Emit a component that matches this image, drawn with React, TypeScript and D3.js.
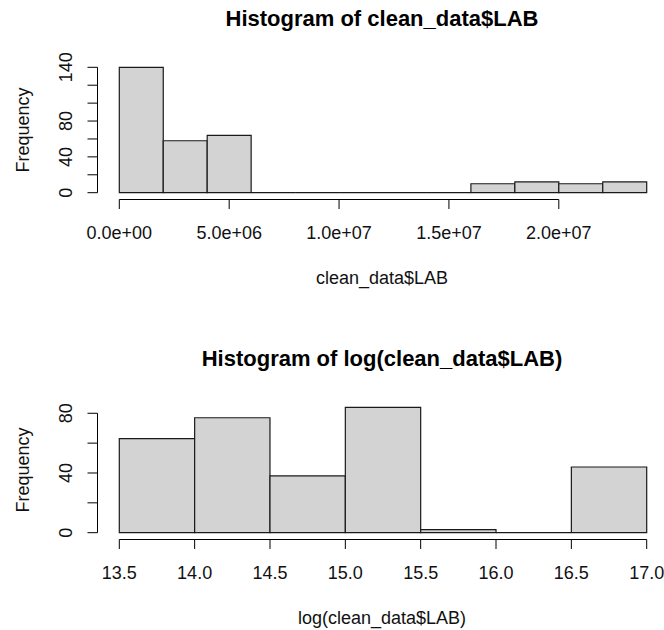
import React from 'react';
import * as d3 from 'd3';

// histogram of the raw values
const rawBreaks = [0, 2e6, 4e6, 6e6, 8e6, 10e6, 12e6, 14e6, 16e6, 18e6, 20e6, 22e6, 24e6];
const rawCounts = [140, 58, 64, 0, 0, 0, 0, 0, 10, 12, 10, 12];
const rawXTicks = [0, 5e6, 10e6, 15e6, 20e6];
const rawYTicks = [0, 20, 40, 60, 80, 100, 120, 140];
const rawYLabels = [0, 40, 80, 140];

// histogram of log values
const logBreaks = [13.5, 14, 14.5, 15, 15.5, 16, 16.5, 17];
const logCounts = [63, 77, 38, 84, 2, 0, 44];
const logXTicks = [13.5, 14, 14.5, 15, 15.5, 16, 16.5, 17];
const logYTicks = [0, 20, 40, 60, 80];
const logYLabels = [0, 40, 80];

const FONT = '"Liberation Sans", Arial, Helvetica, sans-serif';

// R style scientific labels: 5.0e+06
const sci = (v: number) => {
  const [m, e] = v.toExponential(1).split('e');
  const n = parseInt(e);
  return `${m}e${n < 0 ? '-' : '+'}${String(Math.abs(n)).padStart(2, '0')}`;
};

type PanelProps = {
  top: number;
  title: string;
  xlab: string;
  breaks: number[];
  counts: number[];
  xTicks: number[];
  yTicks: number[];
  yLabels: number[];
  fmt: (v: number) => string;
};

function Hist({ top, title, xlab, breaks, counts, xTicks, yTicks, yLabels, fmt }: PanelProps) {
  const x = d3.scaleLinear().domain([breaks[0], breaks[breaks.length - 1]]).range([119.3, 646.7]);
  const base = top + 192.7;
  const y = d3.scaleLinear().domain([0, d3.max(counts) as number]).range([base, base - 125.4]);
  const axisY = top + 199.5;
  const axisX = 97.5;
  const midY = (y(0) + y(d3.max(counts) as number)) / 2;

  return (
    <g fontFamily={FONT}>
      <text x={382} y={top + 26} textAnchor="middle" fontSize={22} fontWeight="bold" fill="#000">
        {title}
      </text>

      {/* bars drawn as closed paths so empty bins still show their base line */}
      {counts.map((c, i) => {
        const x0 = x(breaks[i]);
        const x1 = x(breaks[i + 1]);
        return (
          <path
            key={i}
            d={`M${x0},${y(0)}V${y(c)}H${x1}V${y(0)}Z`}
            fill="#d3d3d3"
            stroke="#1a1a1a"
            strokeWidth={1.2}
          />
        );
      })}

      {/* x axis */}
      <line x1={x(xTicks[0])} x2={x(xTicks[xTicks.length - 1])} y1={axisY} y2={axisY} stroke="#000" />
      {xTicks.map((t) => (
        <g key={t}>
          <line x1={x(t)} x2={x(t)} y1={axisY} y2={axisY + 9.5} stroke="#000" />
          <text x={x(t)} y={top + 238.5} textAnchor="middle" fontSize={18} fill="#111">
            {fmt(t)}
          </text>
        </g>
      ))}
      <text x={382} y={top + 283.5} textAnchor="middle" fontSize={18} fill="#111">
        {xlab}
      </text>

      {/* y axis */}
      <line x1={axisX} x2={axisX} y1={y(yTicks[0])} y2={y(yTicks[yTicks.length - 1])} stroke="#000" />
      {yTicks.map((t) => (
        <line key={t} x1={axisX} x2={axisX - 10} y1={y(t)} y2={y(t)} stroke="#000" />
      ))}
      {yLabels.map((t) => (
        <text
          key={t}
          transform={`translate(71.5,${y(t)}) rotate(-90)`}
          textAnchor="middle"
          fontSize={18}
          fill="#111"
        >
          {t}
        </text>
      ))}
      <text transform={`translate(28.5,${midY}) rotate(-90)`} textAnchor="middle" fontSize={18} fill="#111">
        Frequency
      </text>
    </g>
  );
}

export default function App() {
  return (
    <svg
      width={664}
      height={630}
      viewBox="0 0 664 630"
      style={{ position: 'absolute', left: 0, top: 0, background: '#fff' }}
    >
      <rect width={664} height={630} fill="#fff" />
      <Hist
        top={0}
        title="Histogram of clean_data$LAB"
        xlab="clean_data$LAB"
        breaks={rawBreaks}
        counts={rawCounts}
        xTicks={rawXTicks}
        yTicks={rawYTicks}
        yLabels={rawYLabels}
        fmt={sci}
      />
      <Hist
        top={340}
        title="Histogram of log(clean_data$LAB)"
        xlab="log(clean_data$LAB)"
        breaks={logBreaks}
        counts={logCounts}
        xTicks={logXTicks}
        yTicks={logYTicks}
        yLabels={logYLabels}
        fmt={(v) => v.toFixed(1)}
      />
    </svg>
  );
}
